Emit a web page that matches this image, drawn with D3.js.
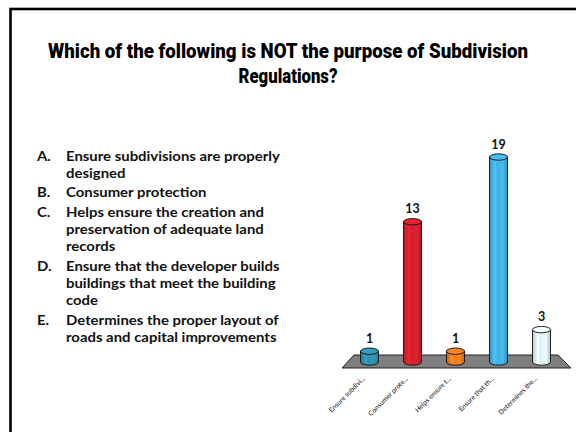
<!DOCTYPE html>
<html><head><meta charset="utf-8">
<script src="https://cdn.jsdelivr.net/npm/d3@7"></script>
<style>
html,body{margin:0;padding:0;background:#fff;}
svg{display:block;}
</style></head>
<body>
<svg id="c" width="576" height="432"></svg>
<script>
const titleLines = ["Which of the following is NOT the purpose of Subdivision", "Regulations?"];
const optionLetters = ["A.", "B.", "C.", "D.", "E."];
const optionLines = [
  ["Ensure subdivisions are properly", "designed"],
  ["Consumer protection"],
  ["Helps ensure the creation and", "preservation of adequate land", "records"],
  ["Ensure that the developer builds", "buildings that meet the building", "code"],
  ["Determines the proper layout of", "roads and capital improvements"]
];
const categories = ["Ensure subdivi...", "Consumer prote...", "Helps ensure t...", "Ensure that th...", "Determines the..."];
const values = [1, 13, 1, 19, 3];
const colors = ["#2F8EAD", "#D2202E", "#F27A1E", "#43AEE0", "#DCEEF3"];

const svg = d3.select("#c");

// slide border
svg.append("rect").attr("x", 10.5).attr("y", 9).attr("width", 600).attr("height", 500)
  .attr("fill", "none").attr("stroke", "#000").attr("stroke-width", 2.6);

// title: condensed by horizontal scaling
const titleW = [480, 99];
titleLines.forEach((t, i) => {
  const g = svg.append("g");
  const tx = g.append("text").attr("x", 0).attr("y", 0)
    .attr("text-anchor", "middle")
    .attr("font-family", "Roboto,'Liberation Sans',sans-serif")
    .attr("font-weight", 900).attr("font-size", 20.5).attr("fill", "#000")
    .text(t);
  const w = tx.node().getComputedTextLength();
  g.attr("transform", `translate(288,${58 + i * 25}) scale(${titleW[i] / w},1)`);
});

// options list (narrowed slightly to mimic Calibri)
const lineH = 17.1;
const startY = [161, 197, 217, 271, 325];
const optSize = 12.6;
const og = svg.append("g").attr("font-family", "Lato,'Open Sans',sans-serif").attr("font-weight", "bold").attr("fill", "#111").attr("font-size", optSize);
const probe = og.append("text").text(optionLines[0][0]);
const sx = 214 / probe.node().getComputedTextLength();
probe.remove();
optionLetters.forEach((L, i) => {
  og.append("text").attr("transform", `translate(37,${startY[i]}) scale(${sx},1)`).text(L);
  optionLines[i].forEach((t, j) => {
    og.append("text").attr("transform", `translate(66,${startY[i] + j * lineH}) scale(${sx},1)`).text(t);
  });
});

// chart
const x = d3.scaleBand().domain(categories).range([348, 563]).padding(0);
const y = d3.scaleLinear().domain([0, 19]).range([362, 157]);

const defs = svg.append("defs");
colors.forEach((c, i) => {
  const g = defs.append("linearGradient").attr("id", "g" + i).attr("x1", 0).attr("x2", 1).attr("y1", 0).attr("y2", 0);
  const base = d3.color(c);
  g.append("stop").attr("offset", 0).attr("stop-color", base.darker(0.5));
  g.append("stop").attr("offset", 0.3).attr("stop-color", base.brighter(0.35));
  g.append("stop").attr("offset", 0.45).attr("stop-color", base);
  g.append("stop").attr("offset", 0.75).attr("stop-color", base.brighter(0.2));
  g.append("stop").attr("offset", 1).attr("stop-color", base.darker(0.6));
});

// floor
const floorPts = [[342, 368], [571, 368], [558, 355], [354, 355]];
svg.append("path").attr("d", d3.line()(floorPts) + "Z")
  .attr("fill", "#7f7f7f").attr("stroke", "#222").attr("stroke-width", 1);

const bw = 18, ry = 3.2;
const bars = svg.append("g");
categories.forEach((cat, i) => {
  const cx = x(cat) + x.bandwidth() / 2;
  const x0 = cx - bw / 2, x1 = cx + bw / 2;
  const yt = y(values[i]), yb = y(0);
  const body = `M${x0},${yt} L${x0},${yb} A${bw/2},${ry} 0 0 0 ${x1},${yb} L${x1},${yt} Z`;
  bars.append("path").attr("d", body).attr("fill", `url(#g${i})`).attr("stroke", "#111").attr("stroke-width", 0.9);
  bars.append("ellipse").attr("cx", cx).attr("cy", yt).attr("rx", bw / 2).attr("ry", ry)
    .attr("fill", d3.color(colors[i]).brighter(0.25)).attr("stroke", "#111").attr("stroke-width", 0.9);
  bars.append("text").attr("x", cx).attr("y", yt - 8.5).attr("text-anchor", "middle")
    .attr("font-family", "Lato,'Open Sans',sans-serif").attr("font-weight", "bold").attr("font-size", 12.5)
    .attr("fill", "#111").text(values[i]);
  bars.append("text").attr("transform", `translate(${cx - 4},${379}) rotate(-45)`)
    .attr("text-anchor", "end").attr("font-family", "Lato,'Open Sans',sans-serif").attr("font-size", 6.8)
    .attr("fill", "#111").text(cat);
});
</script>
</body></html>
